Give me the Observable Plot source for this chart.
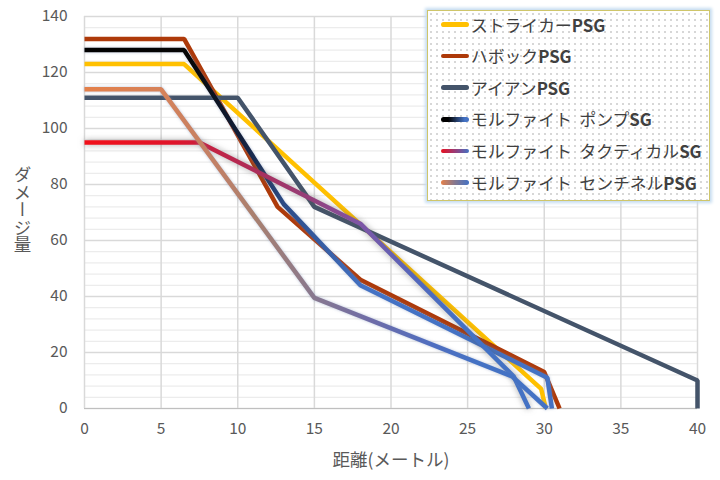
<!DOCTYPE html>
<html><head><meta charset="utf-8">
<script src="https://cdn.jsdelivr.net/npm/d3@7"></script>
<script src="https://cdn.jsdelivr.net/npm/@observablehq/plot@0.6"></script>
<style>
body{margin:0;background:#fff;font-family:"Noto Sans CJK JP","Noto Sans",sans-serif;}
#wrap{position:relative;width:720px;height:480px;overflow:hidden;background:#fff}
#ytitle{position:absolute;left:12px;top:166px;writing-mode:vertical-rl;text-orientation:upright;font-size:17.5px;color:#595959;line-height:20px;}
#legend{position:absolute;left:427px;top:10px;width:283px;height:191px;border:1.5px solid #CFC66A;box-shadow:0 0 3px 2px #C5DCF0;background-color:#fff;background-image:radial-gradient(#d6d6d6 0.7px, transparent 1px);background-size:6px 6px;box-sizing:border-box;}
.row{position:absolute;left:0;height:26px;display:flex;align-items:center;font-size:16.8px;color:#404040;white-space:pre;word-spacing:4px;}
.sw{width:28px;height:4.5px;border-radius:3px;margin-left:13px;margin-right:2px;flex:none;}
.row b{font-weight:700;}
</style></head>
<body>
<div id="wrap">
  <div id="chart"></div>
  <div id="ytitle">ダメージ量</div>
  <div id="legend"></div>
</div>
<script>
const seriesNames = ["ストライカーPSG","ハボックPSG","アイアンPSG","モルファイト ポンプSG","モルファイト タクティカルSG","モルファイト センチネルPSG"];
const strikerDist = [0, 6.5, 29.8, 30.1];
const strikerDmg  = [123, 123, 7, 0];
const havocDist = [0, 6.5, 12.6, 18, 30, 31];
const havocDmg  = [132, 132, 72, 46, 13, 0];
const ironDist = [0, 10, 15, 40, 40];
const ironDmg  = [111, 111, 72, 10, 0];
const pumpDist = [0, 6.5, 13, 18, 30.2, 30.5];
const pumpDmg  = [128, 128, 73, 44, 11, 0];
const tacticalDist = [0, 7.5, 18, 28, 29];
const tacticalDmg  = [95, 95, 66, 11.5, 0];
const sentinelDist = [0, 5, 15, 27.9, 30.2];
const sentinelDmg  = [114, 114, 39.5, 11.5, 0];
const xTicks = [0, 5, 10, 15, 20, 25, 30, 35, 40];
const yTicks = [0, 20, 40, 60, 80, 100, 120, 140];
const yMinorTicks = d3.range(0, 141, 4);
const xTitle = "距離(メートル)";

const gradients = {
  gPump: [[0,"#000000"],[0.22,"#060606"],[0.33,"#121E38"],[0.43,"#2C4C88"],[0.6,"#4472C4"],[1,"#4472C4"]],
  gTactical: [[0,"#F2101A"],[0.2,"#E0142A"],[0.27,"#C8203F"],[0.4,"#A8305F"],[0.5,"#963E78"],[0.62,"#7E56A6"],[0.75,"#5268BC"],[0.85,"#4472C4"],[1,"#4472C4"]],
  gSentinel: [[0,"#E4804A"],[0.17,"#D5825A"],[0.3,"#BE8068"],[0.37,"#A88070"],[0.5,"#877890"],[0.62,"#6E6CA8"],[0.75,"#4F6EC0"],[0.85,"#4472C4"],[1,"#4472C4"]]
};
const lineColors = ["#FFC000","#AE3A0A","#44546A","url(#gPump)","url(#gTactical)","url(#gSentinel)"];
const legendSwatches = ["#FFC000","#AE3A0A","#44546A",
  "linear-gradient(90deg,#000 0%,#000 25%,#4472C4 85%)",
  "linear-gradient(90deg,#E8101E 0%,#9A3C78 50%,#4472C4 100%)",
  "linear-gradient(90deg,#E4804A 0%,#857890 50%,#4472C4 100%)"];

const dists = [strikerDist, havocDist, ironDist, pumpDist, tacticalDist, sentinelDist];
const dmgs = [strikerDmg, havocDmg, ironDmg, pumpDmg, tacticalDmg, sentinelDmg];
const tables = dists.map((ds, i) => ds.map((d, j) => ({series: seriesNames[i], dist: d, dmg: dmgs[i][j]})));

const defsMark = () => {
  const defs = d3.create("svg:defs");
  for (const [id, stops] of Object.entries(gradients)) {
    const lg = defs.append("linearGradient").attr("id", id).attr("x1", 0).attr("x2", 1).attr("y1", 0).attr("y2", 0);
    for (const [o, c] of stops) lg.append("stop").attr("offset", o).attr("stop-color", c);
  }
  return defs.node();
};

const lineMarks = tables.map((t, i) => Plot.line(t, {
  x: "dist", y: "dmg", stroke: lineColors[i], strokeWidth: 4.5,
  strokeLinecap: "butt", strokeLinejoin: "miter",
  imageFilter: i === 4 ? "drop-shadow(0px 0px 3px rgba(90,90,90,0.55))" : (i >= 3 ? "drop-shadow(0px 0px 1.5px rgba(120,140,180,0.5))" : undefined)
}));

const chart = Plot.plot({
  width: 720, height: 480,
  marginLeft: 84, marginRight: 23, marginTop: 16, marginBottom: 72,
  style: {fontFamily: '"Noto Sans CJK JP","Noto Sans",sans-serif', fontSize: "15.5px", color: "#595959", background: "transparent"},
  x: {domain: [0, 40], ticks: xTicks, tickSize: 0, tickPadding: 14, label: null},
  y: {domain: [0, 140], ticks: yTicks, tickSize: 0, tickPadding: 17, label: null},
  marks: [
    defsMark,
    Plot.gridY(yMinorTicks, {stroke: "#ECECEC", strokeOpacity: 1, strokeWidth: 1.2}),
    Plot.gridY(yTicks, {stroke: "#D9D9D9", strokeOpacity: 1, strokeWidth: 1.5}),
    Plot.gridX(xTicks, {stroke: "#D9D9D9", strokeOpacity: 1, strokeWidth: 1.5}),
    Plot.ruleY([0], {stroke: "#BFBFBF", strokeWidth: 1.2}),
    ...lineMarks,
    Plot.text([xTitle], {frameAnchor: "bottom", dy: 57, fontSize: 17.5, fill: "#595959"})
  ]
});
document.getElementById("chart").appendChild(chart);

const legend = d3.select("#legend");
seriesNames.forEach((name, i) => {
  const m = name.match(/^(.*?)([A-Z]+)$/);
  const row = legend.append("div").attr("class", "row").style("top", (0.5 + i * 31.6) + "px");
  row.append("div").attr("class", "sw").style("background", legendSwatches[i]);
  const span = row.append("span");
  span.append("span").text(m[1]);
  span.append("b").text(m[2]);
});
</script>
</body></html>
